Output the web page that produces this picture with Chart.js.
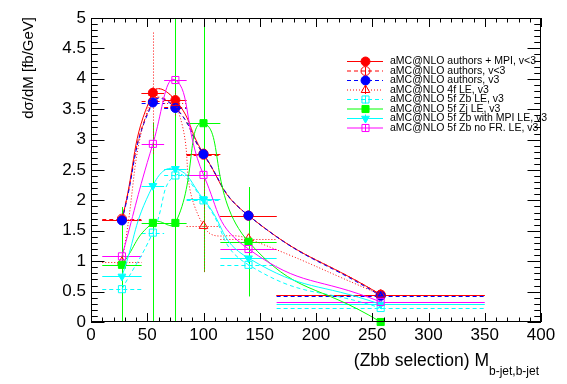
<!DOCTYPE html>
<html>
<head>
<meta charset="utf-8">
<script src="https://cdn.jsdelivr.net/npm/chart.js@4.4.0/dist/chart.umd.min.js"></script>
<style>
  body { margin: 0; background: #fff; }
</style>
</head>
<body>
<canvas id="chartbox" width="567" height="384"></canvas>
<script>
// M(b-jet,b-jet) bins: centre and edges [GeV]
const binCentres = [27.5, 55, 75, 100, 140, 257.5]
const binLow = [10, 45, 65, 85, 115, 165]
const binHigh = [45, 65, 85, 115, 165, 350]

// dsigma/dM [fb/GeV] for each sample
const authorsMpiV3lt = [1.68, 3.77, 3.65, 2.77, 1.75, 0.45]
const authorsV3lt = [1.70, 3.63, 3.53, 2.75, 1.75, 0.45]
const authorsV3 = [1.67, 3.61, 3.52, 2.76, 1.75, 0.43]
const le4f = [0.99, 3.77, 3.60, 1.58, 1.37, 0.45]
const le5fZb = [0.54, 1.47, 2.41, 2.00, 0.94, 0.23]
const le5fZj = [0.94, 1.63, 1.63, 3.27, 1.32, 0.00]
const le5fZbMpi = [0.75, 2.24, 2.52, 2.02, 1.05, 0.29]
const le5fZbNoFr = [1.08, 2.93, 3.98, 2.42, 1.20, 0.33]

// vertical (stat) errors
const errAuthorsMpiV3lt = [0.05, 0.05, 0.05, 0.05, 0.05, 0.02]
const errAuthorsV3lt = [0.05, 0.05, 0.05, 0.05, 0.05, 0.02]
const errAuthorsV3 = [0.05, 0.05, 0.05, 0.05, 0.05, 0.02]
const errLe4f = [0.1, 1.0, 0.2, 0.75, 0.1, 0.03]
const errLe5fZb = [0.05, 0.05, 0.05, 0.05, 0.05, 0.02]
const errLe5fZj = [0.95, 1.65, 3.5, 2.45, 0.9, 0]
const errLe5fZbMpi = [0.05, 0.05, 0.05, 0.05, 0.05, 0.02]
const errLe5fZbNoFr = [0.1, 0.1, 0.8, 0.1, 0.1, 0.02]

// axis tick labels
const xTickValues = [0, 50, 100, 150, 200, 250, 300, 350, 400]
const yTickValues = [0, 0.5, 1, 1.5, 2, 2.5, 3, 3.5, 4, 4.5, 5]

const labels = [
  'aMC@NLO authors + MPI, v<3',
  'aMC@NLO authors, v<3',
  'aMC@NLO authors, v3',
  'aMC@NLO 4f LE, v3',
  'aMC@NLO 5f Zb LE, v3',
  'aMC@NLO 5f Zj LE, v3',
  'aMC@NLO 5f Zb with MPI LE, v3',
  'aMC@NLO 5f Zb no FR. LE, v3'
]
const values = [authorsMpiV3lt, authorsV3lt, authorsV3, le4f, le5fZb, le5fZj, le5fZbMpi, le5fZbNoFr]
const errors = [errAuthorsMpiV3lt, errAuthorsV3lt, errAuthorsV3, errLe4f, errLe5fZb, errLe5fZj, errLe5fZbMpi, errLe5fZbNoFr]

const styles = [
  { color: '#ff0000', dash: [], marker: 'circle', r: 4.5, filled: true },
  { color: '#ff0000', dash: [4, 3], marker: 'circle', r: 4.5, filled: false },
  { color: '#0000ff', dash: [4, 3], marker: 'circle', r: 4.5, filled: true },
  { color: '#ff0000', dash: [1, 2], marker: 'triangle', r: 5, filled: false },
  { color: '#00ffff', dash: [4, 3], marker: 'rect', r: 5, filled: false },
  { color: '#00ff00', dash: [], marker: 'rect', r: 5, filled: true },
  { color: '#00ffff', dash: [], marker: 'triangle', r: 4.5, rot: 180, filled: true },
  { color: '#ff00ff', dash: [], marker: 'rect', r: 5, filled: false }
]

const FONT = 'Liberation Sans'

const datasets = labels.map((label, i) => {
  const s = styles[i]
  return {
    label,
    data: binCentres.map((c, j) => ({ x: c, y: values[i][j] })),
    yErr: errors[i],
    showLine: true,
    tension: 0.5,
    fill: false,
    clip: false,
    order: labels.length - i,
    borderColor: s.color,
    borderWidth: 1,
    borderDash: s.dash,
    pointStyle: s.marker,
    pointRotation: s.rot || 0,
    pointRadius: s.r,
    pointBorderWidth: 1,
    pointBorderColor: s.color,
    pointBackgroundColor: s.filled ? s.color : 'rgba(0,0,0,0)'
  }
})

// horizontal bin-width bars and vertical error bars, under the curves
const errorBars = {
  id: 'errorBars',
  beforeDatasetsDraw(chart) {
    const { ctx, chartArea: a, scales: { x, y } } = chart
    ctx.save()
    ctx.beginPath()
    ctx.rect(a.left, a.top, a.width, a.height)
    ctx.clip()
    ctx.lineWidth = 1
    chart.data.datasets.slice().reverse().forEach(ds => {
      ctx.strokeStyle = ds.borderColor
      ctx.setLineDash(ds.borderDash)
      ds.data.forEach((p, j) => {
        const py = Math.round(y.getPixelForValue(p.y)) + 0.5
        const px = Math.round(x.getPixelForValue(p.x)) + 0.5
        ctx.beginPath()
        ctx.moveTo(x.getPixelForValue(binLow[j]), py)
        ctx.lineTo(x.getPixelForValue(binHigh[j]), py)
        if (ds.yErr[j] > 0) {
          ctx.moveTo(px, y.getPixelForValue(p.y - ds.yErr[j]))
          ctx.lineTo(px, y.getPixelForValue(p.y + ds.yErr[j]))
        }
        ctx.stroke()
      })
    })
    ctx.restore()
  }
}

// ROOT style frame with ticks inside on all four sides
const frameTicks = {
  id: 'frameTicks',
  afterDatasetsDraw(chart) {
    const { ctx, chartArea: a, scales: { x, y } } = chart
    ctx.save()
    ctx.strokeStyle = '#000'
    ctx.lineWidth = 1
    ctx.setLineDash([])
    ctx.strokeRect(a.left + 0.5, a.top + 0.5, a.width - 1, a.height - 1)
    ctx.beginPath()
    for (let v = 0; v <= 400; v += 10) {
      const px = Math.round(x.getPixelForValue(v)) + 0.5
      const len = v % 50 === 0 ? 9 : 4.5
      ctx.moveTo(px, a.bottom); ctx.lineTo(px, a.bottom - len)
      ctx.moveTo(px, a.top); ctx.lineTo(px, a.top + len)
    }
    for (let k = 0; k <= 50; k++) {
      const py = Math.round(y.getPixelForValue(k / 10)) + 0.5
      const len = k % 5 === 0 ? 13.5 : 6.75
      ctx.moveTo(a.left, py); ctx.lineTo(a.left + len, py)
      ctx.moveTo(a.right, py); ctx.lineTo(a.right - len, py)
    }
    ctx.stroke()
    ctx.restore()
  }
}

// legend box and axis titles
const legendTitles = {
  id: 'legendTitles',
  afterDraw(chart) {
    const { ctx } = chart
    ctx.save()
    ctx.fillStyle = '#000'
    ctx.font = '10.5px "' + FONT + '"'
    ctx.textBaseline = 'middle'
    chart.data.datasets.forEach((ds, i) => {
      const ly = 61.5 + i * 9.5
      ctx.strokeStyle = ds.borderColor
      ctx.lineWidth = 1
      ctx.setLineDash(ds.borderDash)
      ctx.beginPath()
      ctx.moveTo(347, ly); ctx.lineTo(383, ly)
      ctx.stroke()
      ctx.setLineDash([])
      ctx.beginPath()
      ctx.moveTo(365.5, ly - 4); ctx.lineTo(365.5, ly + 4)
      ctx.stroke()
      ctx.fillStyle = ds.pointBackgroundColor
      Chart.helpers.drawPoint(ctx, {
        pointStyle: ds.pointStyle, rotation: ds.pointRotation,
        radius: ds.pointRadius, borderWidth: 1
      }, 365.5, ly)
      ctx.fillStyle = '#000'
      ctx.fillText(ds.label, 390, ly)
    })

    // y title, aligned to the top of the axis
    ctx.save()
    ctx.translate(29, 17)
    ctx.rotate(-Math.PI / 2)
    ctx.textAlign = 'right'
    ctx.font = '15px "' + FONT + '"'
    ctx.fillText('dσ/dM [fb/GeV]', 0, 0)
    ctx.restore()

    // x title with subscript, aligned to the right end
    ctx.textBaseline = 'alphabetic'
    ctx.textAlign = 'right'
    ctx.font = '12px "' + FONT + '"'
    const sub = 'b-jet,b-jet'
    const subW = ctx.measureText(sub).width
    ctx.fillText(sub, 539, 375)
    ctx.font = '17.5px "' + FONT + '"'
    ctx.fillText('(Zbb selection) M', 539 - subW, 366)
    ctx.restore()
  }
}

const tickFont = { family: FONT, size: 17 }

new Chart(document.querySelector('#chartbox'), {
  type: 'scatter',
  data: { datasets },
  options: {
    responsive: false,
    animation: false,
    events: [],
    layout: { padding: { top: 18, right: 26, left: 0, bottom: 0 } },
    plugins: { legend: { display: false }, tooltip: { enabled: false } },
    scales: {
      x: {
        type: 'linear', min: 0, max: 400,
        grid: { display: false, drawTicks: false },
        border: { display: false },
        afterBuildTicks: s => { s.ticks = xTickValues.map(v => ({ value: v })) },
        afterFit: s => { s.height = 62 },
        ticks: { font: tickFont, color: '#000', padding: 3, maxRotation: 0, autoSkip: false, callback: v => String(v) }
      },
      y: {
        type: 'linear', min: 0, max: 5,
        grid: { display: false, drawTicks: false },
        border: { display: false },
        afterBuildTicks: s => { s.ticks = yTickValues.map(v => ({ value: v })) },
        afterFit: s => { s.width = 91 },
        ticks: { font: tickFont, color: '#000', padding: 5, autoSkip: false, callback: v => String(v) }
      }
    }
  },
  plugins: [errorBars, frameTicks, legendTitles]
})
</script>
</body>
</html>
